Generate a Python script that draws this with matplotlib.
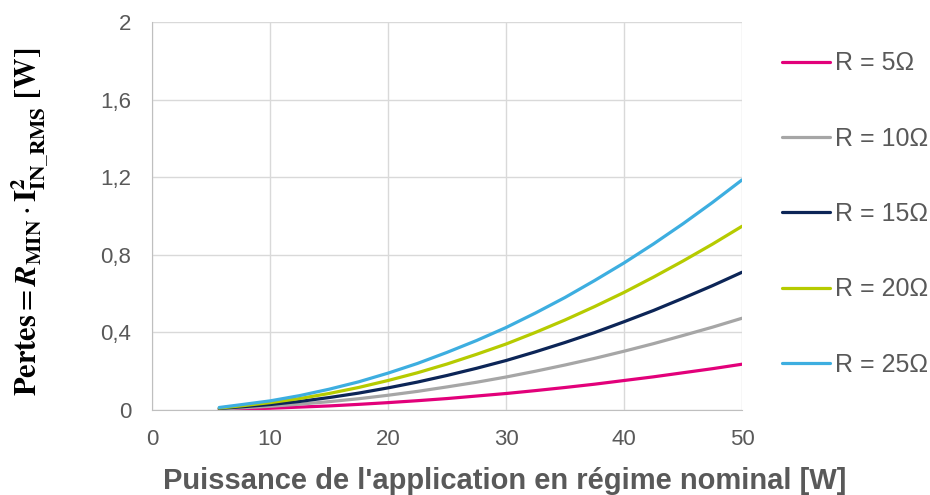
import numpy as np
import matplotlib
import matplotlib.pyplot as plt

matplotlib.use('Agg')

# values (x = nominal power [W], y = losses [W])
power = [5.7, 7.5, 10, 12.5, 15, 17.5, 20, 22.5, 25, 27.5, 30,
         32.5, 35, 37.5, 40, 42.5, 45, 47.5, 50]
loss_5 = [0.003, 0.005, 0.009, 0.015, 0.021, 0.029, 0.038, 0.048, 0.059, 0.072, 0.085,
          0.100, 0.116, 0.133, 0.152, 0.171, 0.192, 0.213, 0.236]
loss_10 = [0.005, 0.011, 0.019, 0.030, 0.043, 0.058, 0.076, 0.096, 0.119, 0.143, 0.170,
           0.200, 0.232, 0.266, 0.303, 0.342, 0.384, 0.427, 0.473]
loss_15 = [0.008, 0.016, 0.028, 0.044, 0.064, 0.087, 0.114, 0.144, 0.178, 0.215, 0.255,
           0.300, 0.348, 0.399, 0.455, 0.513, 0.576, 0.641, 0.710]
loss_20 = [0.010, 0.021, 0.038, 0.059, 0.085, 0.116, 0.152, 0.192, 0.237, 0.287, 0.340,
           0.400, 0.464, 0.533, 0.606, 0.685, 0.768, 0.855, 0.947]
loss_25 = [0.013, 0.027, 0.047, 0.074, 0.107, 0.145, 0.190, 0.240, 0.297, 0.358, 0.425,
           0.500, 0.580, 0.667, 0.758, 0.856, 0.960, 1.070, 1.186]

labels = ['R = 5Ω', 'R = 10Ω', 'R = 15Ω', 'R = 20Ω', 'R = 25Ω']
colors = ['#E2007A', '#A6A6A6', '#0C2557', '#B6CB00', '#3DAEE0']

x_ticks = [0, 10, 20, 30, 40, 50]
y_ticks = [0, 0.4, 0.8, 1.2, 1.6, 2]
y_tick_labels = ['0', '0,4', '0,8', '1,2', '1,6', '2']

plt.rcParams['font.family'] = ['Liberation Sans', 'DejaVu Sans']
plt.rcParams['mathtext.fontset'] = 'stix'

fig = plt.figure(figsize=(9.3, 4.95), dpi=100)
ax = fig.add_axes([152 / 930, 1 - 410 / 495, 590 / 930, 388 / 495])

series = [loss_5, loss_10, loss_15, loss_20, loss_25]
for ys, lab, col in zip(series, labels, colors):
    ax.plot(power, ys, color=col, lw=2.3, label=lab, solid_capstyle='round')

ax.set_xlim(0, 50)
ax.set_ylim(0, 2)
ax.set_xticks(x_ticks)
ax.set_yticks(y_ticks)
ax.set_yticklabels(y_tick_labels)
ax.grid(True, color='#D9D9D9', lw=1)
ax.set_axisbelow(True)
for s in ['top', 'right']:
    ax.spines[s].set_visible(False)
for s in ['left', 'bottom']:
    ax.spines[s].set_color('#BFBFBF')
ax.tick_params(length=0, labelsize=16, labelcolor='#595959')
ax.tick_params(axis='y', pad=15)
ax.tick_params(axis='x', pad=14)

fig.text(163 / 930, 1 - 489 / 495, "Puissance de l'application en régime nominal [W]",
         ha='left', va='baseline', fontsize=21, fontweight='bold', color='#595959')
fig.text(30 / 930, 1 - 222 / 495,
         r"$\mathbf{Pertes} = \mathbfit{R}_{\mathbf{MIN}}\cdot\mathbf{I}^{\mathbf{2}}_{\mathbf{IN\_RMS}}\ \mathbf{[W]}$",
         rotation=90, ha='center', va='center', fontsize=22, color='black')

fig.legend(loc='upper left', bbox_to_anchor=(759 / 930, 1 - 29 / 495), frameon=False,
           fontsize=18, labelcolor='#595959', handlelength=1.92, handletextpad=0.2,
           labelspacing=2.05)

plt.savefig('out.png', dpi=100)
